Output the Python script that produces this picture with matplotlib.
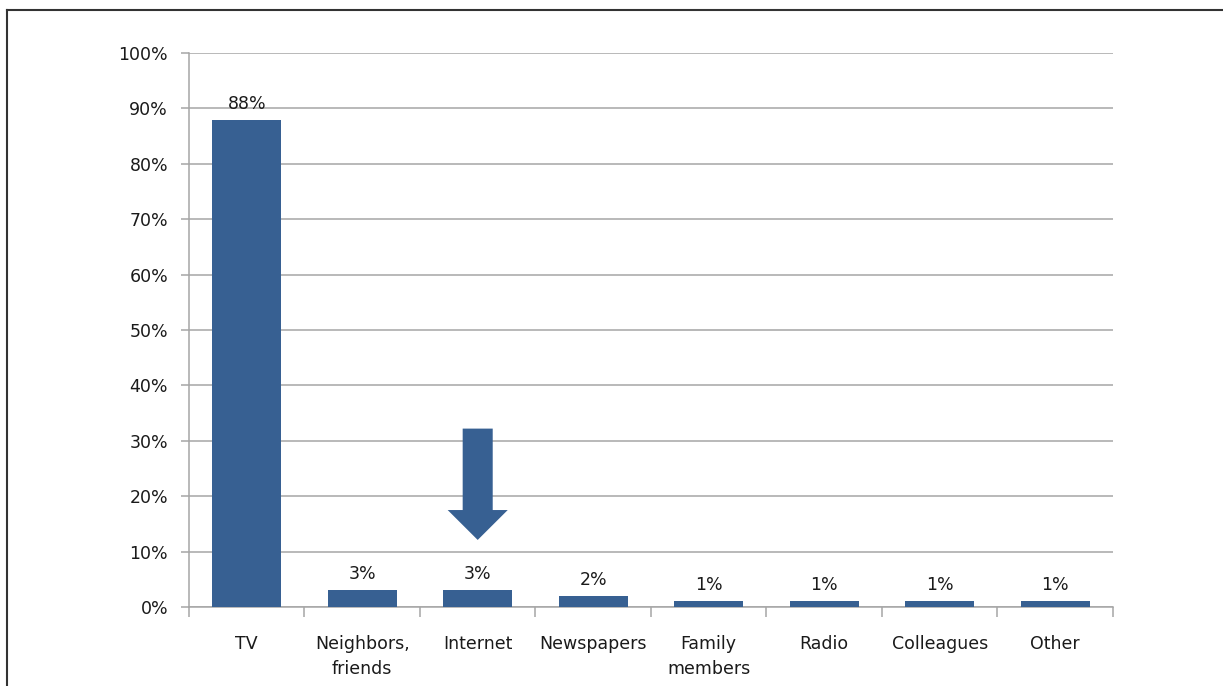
import matplotlib
matplotlib.use("Agg")
import matplotlib.pyplot as plt
from matplotlib.patches import FancyArrow
from matplotlib.ticker import FixedLocator, PercentFormatter
from matplotlib.lines import Line2D

categories = ["TV", "Neighbors,\nfriends", "Internet", "Newspapers",
              "Family\nmembers", "Radio", "Colleagues", "Other"]
shares = [88, 3, 3, 2, 1, 1, 1, 1]
labels = ["88%", "3%", "3%", "2%", "1%", "1%", "1%", "1%"]

BAR = "#376092"
GRID = "#a6a6a6"
plt.rcParams.update({"font.family": "DejaVu Sans", "font.size": 12})

fig = plt.figure(figsize=(12.23, 6.86), dpi=100)
ax = fig.add_axes([0.1545, 0.1152, 0.7555, 0.8075])

x = range(len(categories))
ax.bar(x, shares, width=0.6, color=BAR, zorder=3)
for xi, v, lab in zip(x, shares, labels):
    ax.annotate(lab, (xi, v), xytext=(0, 5), textcoords="offset points",
                ha="center", va="bottom", fontsize=12.5, color="#1a1a1a")

# arrow pointing at Internet
ax.add_patch(FancyArrow(2, 32.2, 0, -20.1, width=0.26, head_width=0.52,
                        head_length=5.4, length_includes_head=True,
                        color=BAR, lw=0, zorder=4))

ax.set_xlim(-0.5, len(categories) - 0.5)
ax.set_ylim(0, 100)
ax.set_yticks(range(0, 101, 10))
ax.yaxis.set_major_formatter(PercentFormatter(decimals=0))
ax.yaxis.grid(True, color=GRID, lw=1.1, zorder=0)
ax.set_xticks(list(x))
ax.set_xticklabels(categories, fontsize=12.5, linespacing=1.5, color="#1a1a1a")
ax.xaxis.set_minor_locator(FixedLocator([i - 0.5 for i in range(len(categories) + 1)]))
ax.tick_params(axis="x", which="major", length=0, pad=20)
ax.tick_params(axis="x", which="minor", length=7, color=GRID, width=1.1)
ax.tick_params(axis="y", length=6, color=GRID, width=1.1, pad=9,
               labelsize=12.5, labelcolor="#1a1a1a")
for s in ("top", "right"):
    ax.spines[s].set_visible(False)
for s in ("left", "bottom"):
    ax.spines[s].set_color(GRID)
    ax.spines[s].set_linewidth(1.1)

# frame of the surrounding slide box
fig.add_artist(Line2D([7 / 1223, 1], [1 - 10 / 686] * 2, color="#333333", lw=1.5))
fig.add_artist(Line2D([7 / 1223] * 2, [0, 1 - 10 / 686], color="#333333", lw=1.5))

fig.savefig("out.png", dpi=100)
